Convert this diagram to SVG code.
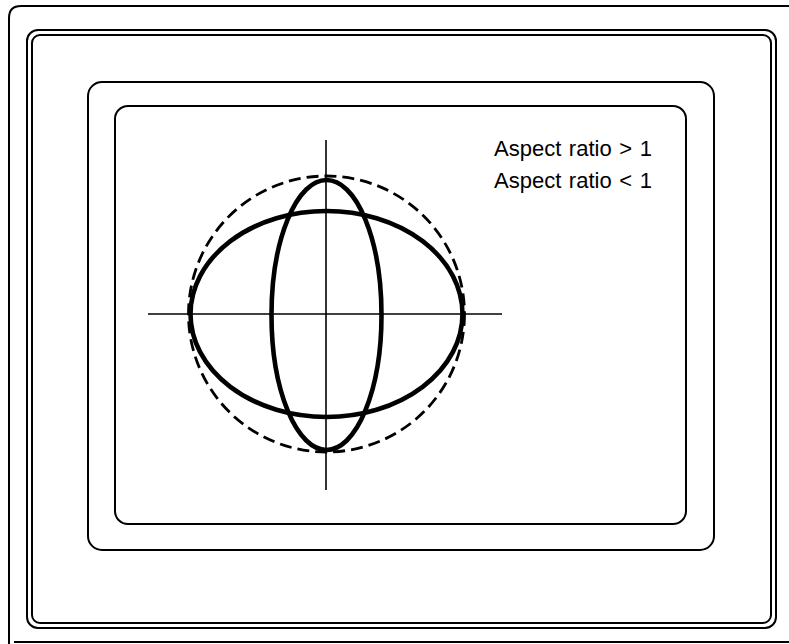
<svg xmlns="http://www.w3.org/2000/svg" width="789" height="644" viewBox="0 0 789 644">
<style>
.frame{fill:none;stroke:#000;stroke-width:2}
.axis{fill:none;stroke:#000;stroke-width:1.6}
.ell{fill:none;stroke:#000;stroke-width:4.6}
.dash{fill:none;stroke:#000;stroke-width:2.8;stroke-dasharray:12 6}
.lbl{font-family:"Liberation Sans",Arial,sans-serif;font-size:22px;fill:#000;word-spacing:1.5px}
</style>
<rect width="789" height="644" fill="#fff"/>
<g id="frames">
<path class="frame" d="M9 644 V18 Q9 6 21 6 H789"/>
<path class="frame" d="M14 642 H789"/>
<rect class="frame" x="27" y="30" width="749" height="598" rx="11"/>
<rect class="frame" x="32" y="35" width="739" height="588" rx="8"/>
<rect class="frame" x="88" y="82" width="626" height="468" rx="14"/>
<rect class="frame" x="115" y="106" width="571" height="418" rx="13"/>
</g>
<g id="axes">
<line class="axis" x1="148" y1="314" x2="502" y2="314"/>
<line class="axis" x1="326" y1="140" x2="326" y2="490"/>
</g>
<g id="circle"><circle class="dash" cx="326.5" cy="314" r="138"/></g>
<g id="ellipse-wide"><ellipse class="ell" cx="326.5" cy="314" rx="136" ry="103"/></g>
<g id="ellipse-tall"><ellipse class="ell" cx="326.5" cy="315" rx="55" ry="135"/></g>
<g id="labels">
<text class="lbl" x="494" y="156">Aspect ratio &gt; 1</text>
<text class="lbl" x="494" y="188">Aspect ratio &lt; 1</text>
</g>
</svg>
